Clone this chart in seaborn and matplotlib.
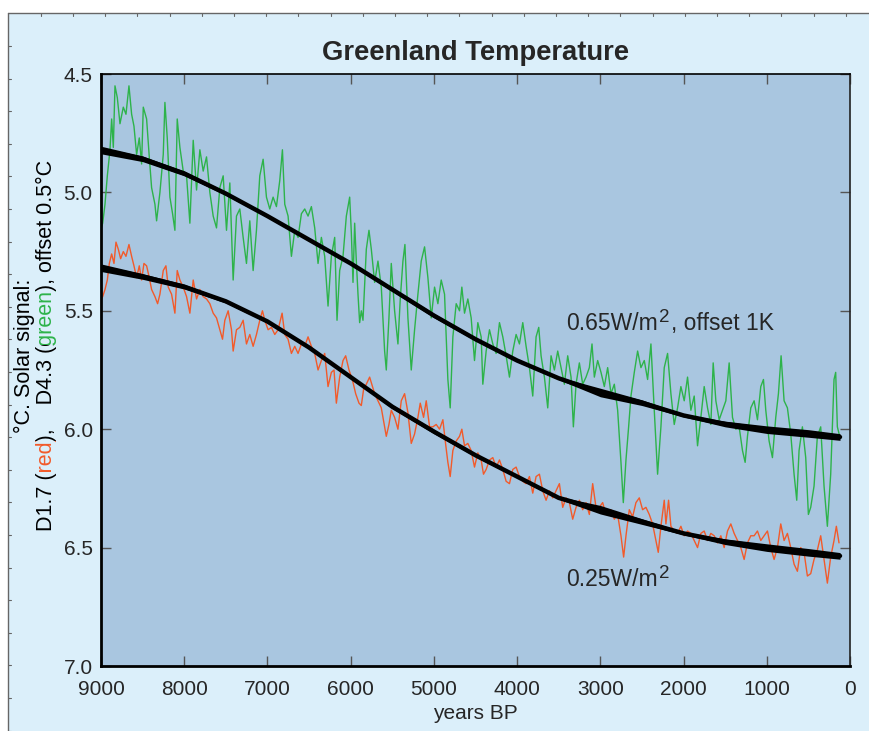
import numpy as np
import pandas as pd
import seaborn as sns
import matplotlib.pyplot as plt
from matplotlib.patches import Rectangle
from matplotlib.lines import Line2D
from matplotlib.transforms import IdentityTransform, Bbox

# ---- data ----
# D4.3 record (green), offset 0.5 C
green_year = [8995, 8980, 8952, 8924, 8892, 8872, 8852, 8832, 8804, 8772, 8732, 8700, 8664, 8632, 8604,
              8572, 8540, 8512, 8492, 8452, 8420, 8392, 8352, 8332, 8292, 8252, 8232, 8204, 8172, 8140,
              8112, 8084, 8052, 8012, 7972, 7932, 7892, 7852, 7812, 7772, 7732, 7692, 7652, 7612, 7572,
              7532, 7492, 7452, 7412, 7372, 7332, 7292, 7252, 7212, 7172, 7132, 7092, 7052, 7012, 6972,
              6932, 6892, 6852, 6820, 6792, 6752, 6712, 6672, 6632, 6592, 6552, 6512, 6472, 6432, 6392,
              6352, 6312, 6272, 6232, 6192, 6164, 6132, 6092, 6052, 6012, 5992, 5972, 5952, 5932, 5912,
              5892, 5872, 5852, 5812, 5780, 5752, 5712, 5672, 5632, 5592, 5572, 5540, 5512, 5472, 5432,
              5404, 5372, 5348, 5312, 5272, 5232, 5192, 5152, 5112, 5072, 5032, 4992, 4952, 4912, 4872,
              4832, 4804, 4772, 4732, 4692, 4664, 4632, 4592, 4552, 4512, 4472, 4432, 4412, 4372, 4332,
              4292, 4252, 4212, 4172, 4132, 4092, 4052, 4012, 3972, 3932, 3892, 3852, 3812, 3772, 3740,
              3712, 3672, 3632, 3592, 3552, 3512, 3472, 3432, 3392, 3352, 3324, 3292, 3252, 3212, 3172,
              3132, 3100, 3072, 3032, 2992, 2952, 2912, 2872, 2832, 2792, 2752, 2724, 2692, 2660, 2632,
              2592, 2552, 2512, 2472, 2432, 2392, 2352, 2312, 2272, 2232, 2192, 2152, 2112, 2072, 2032,
              1992, 1952, 1912, 1872, 1832, 1792, 1752, 1712, 1672, 1644, 1612, 1572, 1532, 1492, 1452,
              1412, 1372, 1332, 1292, 1260, 1232, 1192, 1152, 1112, 1072, 1040, 1012, 972, 932, 892,
              860, 828, 792, 752, 712, 672, 640, 612, 572, 532, 500, 472, 432, 392, 352,
              312, 272, 232, 192, 172, 152, 124]
green_temp = [5.15, 5.13, 5.05, 4.93, 4.82, 4.69, 4.81, 4.55, 4.60, 4.71, 4.64, 4.67, 4.55, 4.67, 4.72,
              4.84, 4.77, 4.88, 4.64, 4.69, 4.85, 4.98, 5.05, 5.12, 5.00, 4.84, 4.62, 4.77, 5.02, 5.09,
              5.16, 4.69, 4.81, 4.91, 4.93, 5.13, 4.78, 4.99, 4.82, 4.91, 4.85, 5.00, 5.10, 5.15, 4.98,
              4.93, 5.16, 4.96, 5.37, 5.10, 5.07, 5.19, 5.30, 5.12, 5.33, 5.16, 4.93, 4.86, 5.02, 5.07,
              5.02, 5.06, 4.95, 4.82, 5.05, 5.10, 5.27, 5.16, 5.19, 5.09, 5.07, 5.10, 5.06, 5.15, 5.30,
              5.19, 5.27, 5.48, 5.27, 5.19, 5.54, 5.33, 5.27, 5.10, 5.02, 5.17, 5.38, 5.13, 5.29, 5.43,
              5.55, 5.50, 5.54, 5.24, 5.16, 5.24, 5.38, 5.29, 5.40, 5.67, 5.75, 5.53, 5.30, 5.50, 5.64,
              5.45, 5.29, 5.22, 5.53, 5.75, 5.58, 5.43, 5.29, 5.23, 5.36, 5.53, 5.40, 5.47, 5.37, 5.43,
              5.79, 5.91, 5.61, 5.47, 5.50, 5.40, 5.51, 5.45, 5.53, 5.71, 5.55, 5.61, 5.81, 5.67, 5.58,
              5.64, 5.68, 5.55, 5.61, 5.69, 5.78, 5.67, 5.60, 5.64, 5.55, 5.65, 5.74, 5.86, 5.61, 5.57,
              5.69, 5.78, 5.91, 5.69, 5.75, 5.67, 5.74, 5.81, 5.69, 5.78, 5.99, 5.81, 5.72, 5.81, 5.78,
              5.74, 5.64, 5.78, 5.71, 5.76, 5.82, 5.74, 5.85, 5.81, 5.92, 6.14, 6.31, 6.13, 5.99, 5.86,
              5.76, 5.67, 5.74, 5.71, 5.79, 5.64, 5.92, 6.19, 5.99, 5.74, 5.68, 5.85, 5.98, 5.91, 5.82,
              5.88, 5.78, 5.92, 5.86, 6.07, 5.95, 5.82, 5.91, 5.98, 5.72, 5.88, 5.96, 5.92, 5.88, 5.72,
              5.95, 6.00, 5.99, 6.09, 6.14, 6.03, 5.91, 5.88, 5.96, 5.82, 5.79, 5.92, 6.05, 6.12, 5.95,
              5.85, 5.69, 5.88, 5.91, 6.02, 6.19, 6.30, 6.09, 5.99, 6.12, 6.36, 6.33, 6.24, 6.03, 5.99,
              6.24, 6.41, 6.19, 5.79, 5.76, 5.99, 6.03]

# D1.7 record (red)
red_year = [8995, 8980, 8952, 8924, 8900, 8872, 8844, 8820, 8792, 8764, 8732, 8700, 8664, 8632, 8604,
            8572, 8540, 8512, 8484, 8452, 8420, 8392, 8352, 8320, 8292, 8252, 8220, 8192, 8152, 8112,
            8084, 8052, 8012, 7972, 7932, 7892, 7852, 7812, 7772, 7732, 7692, 7652, 7612, 7572, 7540,
            7512, 7472, 7432, 7412, 7372, 7332, 7292, 7252, 7212, 7172, 7132, 7092, 7060, 7032, 6992,
            6952, 6912, 6872, 6824, 6792, 6752, 6712, 6672, 6632, 6592, 6552, 6512, 6472, 6432, 6392,
            6352, 6312, 6272, 6232, 6200, 6172, 6132, 6092, 6060, 6020, 5980, 5940, 5900, 5872, 5844,
            5812, 5772, 5712, 5672, 5632, 5592, 5572, 5540, 5512, 5472, 5432, 5392, 5352, 5312, 5272,
            5232, 5192, 5164, 5124, 5092, 5052, 5012, 4972, 4932, 4892, 4860, 4832, 4804, 4772, 4732,
            4692, 4664, 4632, 4592, 4552, 4512, 4472, 4432, 4404, 4372, 4332, 4292, 4252, 4212, 4172,
            4132, 4092, 4052, 4012, 3972, 3932, 3892, 3852, 3812, 3772, 3732, 3692, 3652, 3612, 3572,
            3532, 3492, 3452, 3412, 3372, 3332, 3292, 3252, 3212, 3172, 3132, 3092, 3052, 3012, 2972,
            2932, 2872, 2832, 2792, 2752, 2720, 2692, 2652, 2612, 2572, 2532, 2492, 2452, 2412, 2372,
            2332, 2304, 2272, 2232, 2212, 2180, 2152, 2112, 2072, 2032, 1992, 1952, 1912, 1872, 1832,
            1792, 1752, 1712, 1672, 1632, 1592, 1552, 1512, 1472, 1432, 1392, 1352, 1312, 1272, 1232,
            1192, 1152, 1112, 1072, 1032, 992, 952, 912, 872, 832, 792, 752, 712, 672, 632,
            592, 552, 512, 472, 432, 392, 352, 312, 272, 232, 192, 164, 132]
red_temp = [5.45, 5.44, 5.41, 5.37, 5.30, 5.26, 5.30, 5.21, 5.24, 5.28, 5.25, 5.27, 5.22, 5.27, 5.31,
            5.36, 5.31, 5.37, 5.30, 5.31, 5.36, 5.41, 5.44, 5.47, 5.43, 5.33, 5.31, 5.40, 5.43, 5.51,
            5.33, 5.37, 5.40, 5.44, 5.51, 5.37, 5.45, 5.41, 5.44, 5.45, 5.47, 5.51, 5.53, 5.58, 5.62,
            5.54, 5.50, 5.58, 5.67, 5.58, 5.57, 5.54, 5.64, 5.60, 5.65, 5.60, 5.54, 5.50, 5.54, 5.58,
            5.57, 5.60, 5.58, 5.51, 5.60, 5.62, 5.68, 5.65, 5.68, 5.64, 5.65, 5.61, 5.65, 5.68, 5.75,
            5.71, 5.68, 5.82, 5.76, 5.75, 5.89, 5.78, 5.71, 5.69, 5.75, 5.79, 5.85, 5.89, 5.90, 5.83,
            5.81, 5.78, 5.85, 5.88, 5.91, 5.99, 6.03, 5.98, 5.92, 5.95, 6.00, 5.88, 5.85, 5.93, 6.06,
            6.02, 5.95, 5.89, 5.95, 5.88, 5.99, 5.99, 5.98, 6.00, 5.96, 6.06, 6.14, 6.20, 6.09, 6.05,
            6.03, 6.00, 6.07, 6.06, 6.09, 6.16, 6.10, 6.13, 6.19, 6.17, 6.13, 6.12, 6.16, 6.13, 6.17,
            6.22, 6.23, 6.17, 6.16, 6.20, 6.22, 6.23, 6.20, 6.27, 6.20, 6.19, 6.26, 6.30, 6.26, 6.29,
            6.26, 6.23, 6.33, 6.29, 6.31, 6.38, 6.33, 6.30, 6.34, 6.31, 6.36, 6.23, 6.33, 6.33, 6.31,
            6.36, 6.34, 6.38, 6.36, 6.45, 6.54, 6.45, 6.34, 6.37, 6.31, 6.29, 6.34, 6.33, 6.36, 6.40,
            6.47, 6.52, 6.41, 6.30, 6.40, 6.30, 6.41, 6.43, 6.44, 6.41, 6.45, 6.43, 6.44, 6.47, 6.50,
            6.44, 6.43, 6.47, 6.44, 6.45, 6.48, 6.45, 6.50, 6.43, 6.40, 6.44, 6.47, 6.50, 6.55, 6.48,
            6.45, 6.45, 6.43, 6.47, 6.45, 6.43, 6.50, 6.55, 6.50, 6.40, 6.47, 6.44, 6.50, 6.57, 6.60,
            6.50, 6.52, 6.62, 6.61, 6.55, 6.51, 6.45, 6.55, 6.65, 6.54, 6.47, 6.41, 6.48]

# solar signal: 0.65 W/m2 offset 1K (upper black) and 0.25 W/m2 (lower black)
solar_year = [9000, 8500, 8000, 7500, 7000, 6500, 6000, 5500, 5000, 4500,
              4000, 3500, 3000, 2500, 2000, 1500, 1000, 500, 120]
solar_hi_temp = [4.821, 4.858, 4.920, 5.005, 5.100, 5.200, 5.300, 5.410, 5.520, 5.620,
                 5.710, 5.785, 5.845, 5.888, 5.942, 5.978, 6.002, 6.018, 6.033]
solar_lo_temp = [5.318, 5.355, 5.398, 5.460, 5.545, 5.655, 5.780, 5.905, 6.010, 6.110,
                 6.200, 6.290, 6.340, 6.390, 6.440, 6.475, 6.500, 6.520, 6.535]
# half-width of the fast solar wiggle band
solar_spread = [0.016, 0.012, 0.010, 0.007, 0.006, 0.006, 0.006, 0.008, 0.009, 0.007,
                0.006, 0.006, 0.018, 0.012, 0.006, 0.012, 0.016, 0.016, 0.014]

x_ticks = [9000, 8000, 7000, 6000, 5000, 4000, 3000, 2000, 1000, 0]
y_ticks = [4.5, 5.0, 5.5, 6.0, 6.5, 7.0]

GREEN = '#2db34a'
RED = '#f25a2a'
OUTER_BG = '#dbeffa'
PLOT_BG = '#a9c6e0'

# ---- style ----
sns.set_style("ticks")
plt.rcParams['font.family'] = ['Liberation Sans', 'DejaVu Sans']
plt.rcParams['mathtext.default'] = 'regular'

W, H = 869, 731
fig = plt.figure(figsize=(W / 100, H / 100), dpi=100)
fig.patch.set_facecolor('white')

# page-like light blue panel with thin grey frame
top_edge = 1 - 13 / H
left_edge = 8 / W
fig.patches.append(Rectangle((left_edge, 0), 1 - left_edge, top_edge, transform=fig.transFigure,
                             facecolor=OUTER_BG, edgecolor='none', zorder=-10))
fig.add_artist(Line2D([left_edge, 1], [top_edge, top_edge], transform=fig.transFigure, color='#666', lw=1))
fig.add_artist(Line2D([left_edge, left_edge], [0, top_edge], transform=fig.transFigure, color='#666', lw=1))
for px in np.arange(40.7, W, 32.2):
    fig.add_artist(Line2D([px / W, px / W], [top_edge, top_edge - 3 / H], transform=fig.transFigure,
                          color='#666', lw=0.8))
for py in np.arange(46, H, 32.6):
    fig.add_artist(Line2D([left_edge, left_edge + 3 / W], [1 - py / H, 1 - py / H], transform=fig.transFigure,
                          color='#666', lw=0.8))

ax = fig.add_axes([101 / W, 65 / H, 749 / W, 592 / H])
ax.set_facecolor(PLOT_BG)

sns.lineplot(x=green_year, y=green_temp, ax=ax, color=GREEN, linewidth=1.0, estimator=None, sort=False)
sns.lineplot(x=red_year, y=red_temp, ax=ax, color=RED, linewidth=1.0, estimator=None, sort=False)

spread = np.array(solar_spread)
for tp in [solar_hi_temp, solar_lo_temp]:
    tp_a = np.array(tp)
    ax.fill_between(solar_year, tp_a - spread, tp_a + spread, color='black', linewidth=0, zorder=3)
    sns.lineplot(x=solar_year, y=tp, ax=ax, color='black', linewidth=3.2, estimator=None, sort=False, zorder=4)

ax.set_xlim(9000, 0)
ax.set_ylim(7.0, 4.5)
ax.set_xticks(x_ticks)
ax.set_yticks(y_ticks)
ax.yaxis.set_major_formatter('{x:.1f}')
ax.set_xlabel('years BP', fontsize=15, labelpad=4)
ax.set_ylabel('')
ax.tick_params(direction='in', length=7, width=1, color='#555', top=True, right=True,
               labelsize=15, pad=10)
ax.tick_params(axis='y', pad=6)

for side in ['left', 'bottom']:
    ax.spines[side].set_linewidth(2.0)
    ax.spines[side].set_color('black')
ax.spines['top'].set_linewidth(1.2)
ax.spines['top'].set_color('black')
ax.spines['right'].set_linewidth(1.2)
ax.spines['right'].set_color('#222')
for s in ax.spines.values():
    s.set_zorder(6)

ax.set_title('Greenland Temperature', fontsize=19.7, fontweight='bold', pad=10)

renderer = fig.canvas.get_renderer()


# ---- annotations with a full-size-ish superscript ----
def super_text(x_data, y_data, pieces):
    x, y = ax.transData.transform((x_data, y_data))
    y -= 8
    for s, fs, dy, gap in pieces:
        x += gap
        t = fig.text(x, y + dy, s, fontsize=fs, ha='left', va='baseline',
                     transform=IdentityTransform(), zorder=7)
        x += t.get_window_extent(renderer).width


super_text(3408, 5.547, [("0.65W/m", 16.5, 0, 0), ("2", 13.5, 8, 0.5), (", offset 1K", 16.5, 0, 1.5)])
super_text(3408, 6.628, [("0.25W/m", 16.5, 0, 0), ("2", 13.5, 8, 0.5)])

# ---- two-line rotated y label with coloured words ----
TXT_KW = dict(rotation=90, rotation_mode='anchor', ha='left', va='baseline', transform=IdentityTransform())


def text_len(s, fs):
    t = fig.text(0, 0, s, fontsize=fs, **TXT_KW)
    n = t.get_window_extent(renderer).height
    t.remove()
    return n


def rotated_line(x_base, y_center, parts, fs):
    # the full line is drawn once per colour and clipped to each word's span
    full = ''.join(s for s, _ in parts)
    y0 = (H - y_center) - text_len(full, fs) / 2
    bounds = [-1e4]
    prefix = ''
    for i in range(len(parts) - 1):
        prefix += parts[i][0]
        nxt = parts[i + 1][0]
        end_here = text_len(prefix, fs)
        start_next = text_len(prefix + nxt, fs) - text_len(nxt, fs)
        bounds.append(y0 + (end_here + start_next) / 2)
    bounds.append(1e4)
    for i, (_, c) in enumerate(parts):
        t = fig.text(x_base, y0, full, color=c, fontsize=fs, **TXT_KW)
        t.set_clip_box(Bbox([[0, bounds[i]], [W, bounds[i + 1]]]))
        t.set_clip_on(True)


rotated_line(30, 356, [("\u00b0C. Solar signal:", 'black')], 15.5)
rotated_line(52, 345, [("D1.7 (", 'black'), ("red", RED), ("),    D4.3 (", 'black'),
                       ("green", GREEN), ("), offset 0.5\u00b0C", 'black')], 15.5)

fig.savefig('out.png', dpi=100, facecolor=fig.get_facecolor())
